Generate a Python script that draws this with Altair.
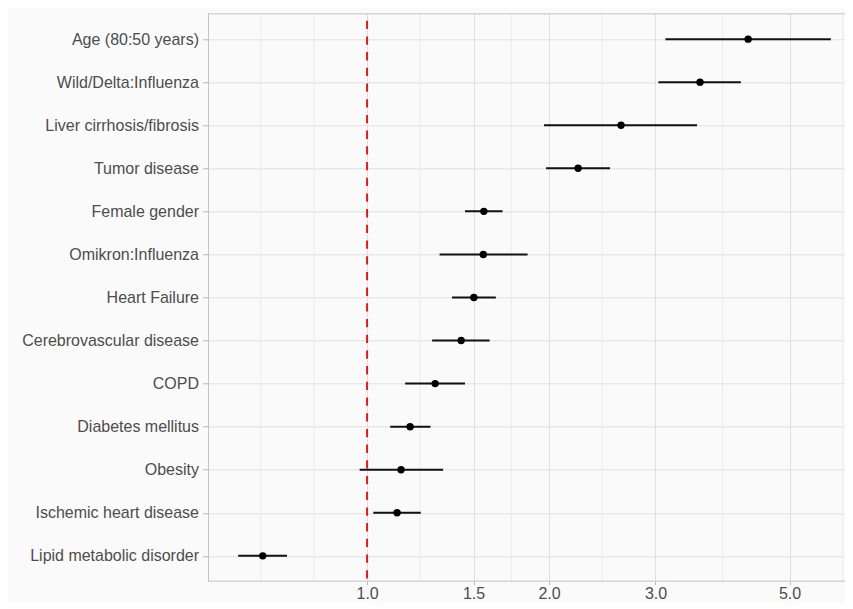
import altair as alt
import pandas as pd

labels = ["Age (80:50 years)", "Wild/Delta:Influenza", "Liver cirrhosis/fibrosis",
          "Tumor disease", "Female gender", "Omikron:Influenza", "Heart Failure",
          "Cerebrovascular disease", "COPD", "Diabetes mellitus", "Obesity",
          "Ischemic heart disease", "Lipid metabolic disorder"]
or_vals = [4.27, 3.555, 2.631, 2.234, 1.560, 1.557, 1.502, 1.431, 1.296, 1.178, 1.138, 1.121, 0.672]
lower = [3.116, 3.033, 1.962, 1.977, 1.452, 1.318, 1.382, 1.281, 1.156, 1.092, 0.972, 1.024, 0.612]
upper = [5.85, 4.153, 3.514, 2.523, 1.675, 1.843, 1.633, 1.595, 1.452, 1.273, 1.336, 1.227, 0.737]

major_ticks = [1.0, 1.5, 2.0, 3.0, 5.0]
minor_grid = [0.667, 0.8165, 1.2247, 1.7321, 2.4495, 3.873, 6.124]
ref_value = [1.0]

df = pd.DataFrame({"label": labels, "or": or_vals, "lo": lower, "hi": upper})
minor_df = pd.DataFrame({"v": minor_grid})
ref_df = pd.DataFrame({"v": ref_value})

W, H = 637, 568.4
FONT = "Liberation Sans"
BORDER = "#c4c4c4"
xscale = alt.Scale(type="log", domain=[0.5455, 6.175], nice=False, zero=False)
yscale = alt.Scale(type="point", padding=0.6, domain=labels)

xaxis = alt.Axis(values=major_ticks, format=".1f", title=None, grid=True,
                 gridColor="#e0e0e0", gridWidth=1, domain=False,
                 tickColor="#b8b8b8", tickSize=3, labelPadding=1,
                 labelFont=FONT, labelFontSize=16, labelColor="#4d4d4d")
yaxis = alt.Axis(title=None, grid=True, gridColor="#e0e0e0", gridWidth=1,
                 domain=False, tickColor="#b8b8b8", tickSize=5.5, labelPadding=4,
                 labelFont=FONT, labelFontSize=16, labelColor="#4d4d4d",
                 labelLimit=300)

minor = alt.Chart(minor_df).mark_rule(color="#ebebeb", strokeWidth=1).encode(
    x=alt.X("v:Q", scale=xscale, axis=xaxis)
)

border_top = alt.Chart(ref_df).mark_rule(color=BORDER, strokeWidth=1).encode(
    x=alt.value(0), x2=alt.value(W), y=alt.value(0.5))
border_bottom = alt.Chart(ref_df).mark_rule(color=BORDER, strokeWidth=1).encode(
    x=alt.value(0), x2=alt.value(W), y=alt.value(H - 0.5))
border_left = alt.Chart(ref_df).mark_rule(color=BORDER, strokeWidth=1).encode(
    x=alt.value(0.5), y=alt.value(0), y2=alt.value(H))

ref = alt.Chart(ref_df).mark_rule(color="#e0191c", strokeWidth=2,
                                  strokeDash=[8.3, 7.4], strokeDashOffset=8.3).encode(
    x=alt.X("v:Q", scale=xscale)
)

bars = alt.Chart(df).mark_rule(color="#111111", strokeWidth=2).encode(
    x=alt.X("lo:Q", scale=xscale),
    x2="hi:Q",
    y=alt.Y("label:N", scale=yscale, axis=yaxis, sort=labels),
)

pts = alt.Chart(df).mark_circle(color="#000000", opacity=1, size=55).encode(
    x=alt.X("or:Q", scale=xscale),
    y=alt.Y("label:N", scale=yscale, sort=labels),
)

chart = alt.layer(minor, border_top, border_bottom, border_left, ref, bars, pts).properties(
    width=W, height=H,
    autosize=alt.AutoSizeParams(type="none"),
    padding={"left": 200, "top": 5.3, "right": 0, "bottom": 21},
    background="#fafafa",
).configure_view(stroke=None, fill="#fafafa")

chart.save("out.html", embed_options={"renderer": "svg", "actions": False})
